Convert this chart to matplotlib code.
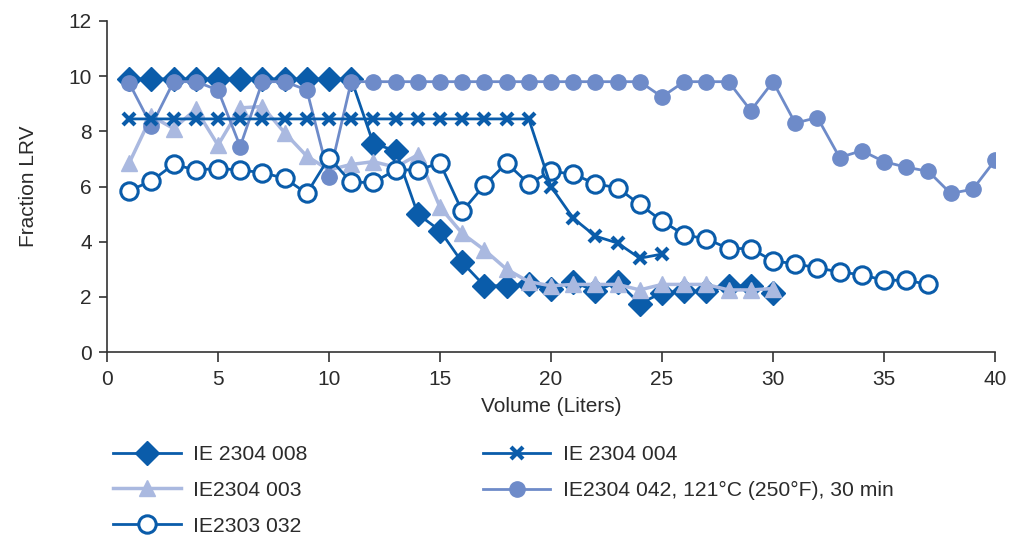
import matplotlib
matplotlib.use("Agg")
import matplotlib.pyplot as plt

plt.rcParams['font.family'] = ['Liberation Sans', 'DejaVu Sans']

# volume (liters) per series
vol_008 = list(range(1, 31))
lrv_008 = [9.9, 9.9, 9.9, 9.9, 9.9, 9.9, 9.9, 9.9, 9.9, 9.9, 9.9,
           7.55, 7.3, 5.0, 4.4, 3.25, 2.4, 2.4, 2.45, 2.3, 2.55,
           2.2, 2.55, 1.75, 2.15, 2.2, 2.2, 2.4, 2.4, 2.15]

vol_003 = list(range(1, 31))
lrv_003 = [6.85, 8.55, 8.1, 8.8, 7.5, 8.85, 8.9, 7.95, 7.1, 6.6, 6.8,
           6.9, 6.7, 7.15, 5.25, 4.3, 3.7, 3.0, 2.55, 2.4, 2.45,
           2.45, 2.45, 2.25, 2.45, 2.45, 2.45, 2.25, 2.25, 2.3]

vol_032 = list(range(1, 38))
lrv_032 = [5.85, 6.2, 6.8, 6.6, 6.65, 6.6, 6.5, 6.3, 5.75, 7.05, 6.15,
           6.15, 6.6, 6.6, 6.85, 5.1, 6.05, 6.85, 6.1, 6.55, 6.45,
           6.1, 5.95, 5.35, 4.75, 4.25, 4.1, 3.75, 3.75, 3.3, 3.2,
           3.05, 2.9, 2.8, 2.6, 2.6, 2.45]

vol_004 = list(range(1, 26))
lrv_004 = [8.45] * 19 + [6.0, 4.85, 4.2, 3.95, 3.4, 3.55]

vol_042 = list(range(1, 41))
lrv_042 = [9.75, 8.2, 9.8, 9.8, 9.5, 7.45, 9.8, 9.8, 9.5, 6.35, 9.8,
           9.8, 9.8, 9.8, 9.8, 9.8, 9.8, 9.8, 9.8, 9.8, 9.8,
           9.8, 9.8, 9.8, 9.25, 9.8, 9.8, 9.8, 8.75, 9.8, 8.3,
           8.5, 7.05, 7.3, 6.9, 6.7, 6.55, 5.75, 5.9, 6.95]

dark = '#0A5CAA'
mid = '#6E8BC9'
light = '#AAB9E0'
txt = '#2B2B2B'

fig = plt.figure(figsize=(10.16, 5.39), dpi=100)
ax = fig.add_axes([107 / 1016, 1 - 352 / 539, 888 / 1016, 331 / 539])

ax.plot(vol_008, lrv_008, '-D', color=dark, lw=2, ms=12, zorder=2,
        label='IE 2304 008')
ax.plot(vol_003, lrv_003, '-^', color=light, lw=2.5, ms=11, zorder=3,
        label='IE2304 003')
ax.plot(vol_032, lrv_032, '-o', color=dark, lw=2, ms=12.5, mfc='white',
        mew=2.2, zorder=5, label='IE2303 032')
ax.plot(vol_004, lrv_004, '-x', color=dark, lw=2, ms=8, mew=3, zorder=6,
        label='IE 2304 004')
ax.plot(vol_042, lrv_042, '-o', color=mid, lw=2, ms=11, zorder=4,
        label='IE2304 042, 121°C (250°F), 30 min')

ax.set_xlim(0, 40)
ax.set_ylim(0, 12)
ax.set_xticks(range(0, 41, 5))
ax.set_yticks(range(0, 13, 2))
ax.spines['top'].set_visible(False)
ax.spines['right'].set_visible(False)
for s in ('left', 'bottom'):
    ax.spines[s].set_color('#333333')
    ax.spines[s].set_linewidth(1.2)
ax.tick_params(axis='y', length=6, width=1.2, color='#333333', labelsize=15,
               labelcolor=txt, pad=5)
ax.tick_params(axis='x', length=7, width=1.2, color='#333333', labelsize=15,
               labelcolor=txt, pad=6)
ax.set_xlabel('Volume (Liters)', fontsize=15, color=txt, labelpad=6)
ax.set_ylabel('Fraction LRV', fontsize=15, color=txt, labelpad=22)
for sp in ax.spines.values():
    sp.set_clip_on(False)

fig.legend(loc='upper left', bbox_to_anchor=(113 / 1016, 1 - 445 / 539),
           ncol=2, frameon=False, fontsize=15.2, handlelength=3.2,
           handletextpad=0.6, columnspacing=8.3, labelspacing=0.8,
           borderpad=0, borderaxespad=0, labelcolor=txt)

fig.savefig('out.png', dpi=100)
